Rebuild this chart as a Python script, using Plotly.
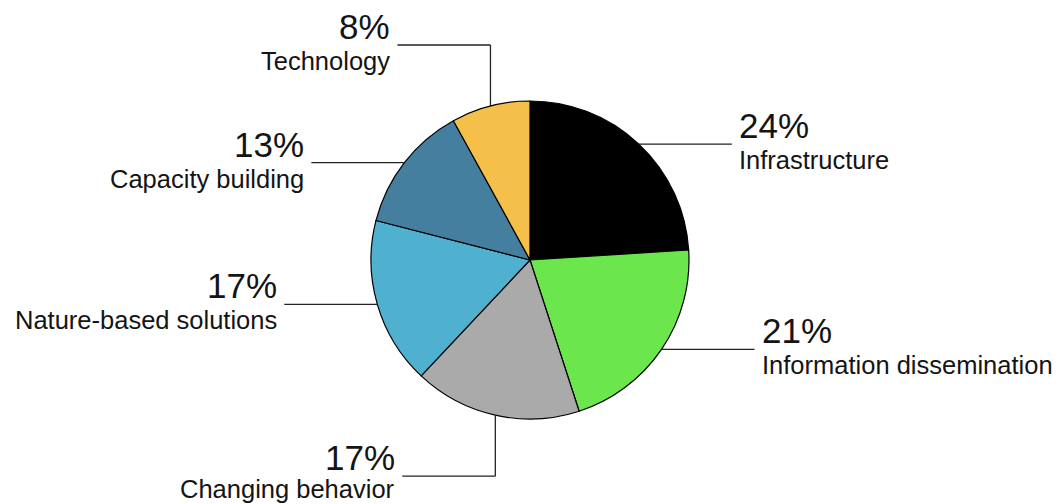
import math
import plotly.graph_objects as go

categories = ["Infrastructure", "Information dissemination", "Changing behavior",
              "Nature-based solutions", "Capacity building", "Technology"]
values = [24, 21, 17, 17, 13, 8]
pct_labels = ["24%", "21%", "17%", "17%", "13%", "8%"]
colors = ["#000000", "#6be64d", "#aaaaaa", "#4fb0d0", "#457fa0", "#f4c04a"]
leader_style = ["h", "h", "v", "h", "h", "v"]

W, H = 1059, 504
cx, cy, R = 530, 260, 159
HLEN, VLEN, GAP = 93, 61, 5
FONT = "Liberation Sans"
TXT = "#141414"
LABEL_SIZE = 25.5

fig = go.Figure(go.Pie(
    labels=categories, values=values, sort=False, direction="clockwise", rotation=0,
    marker=dict(colors=colors, line=dict(color="#000000", width=1.2)),
    textinfo="none", hoverinfo="label+percent",
    domain=dict(x=[(cx - R) / W, (cx + R) / W], y=[(H - cy - R) / H, (H - cy + R) / H]),
    showlegend=False,
))

def px(x):
    return x / W

def py(y):
    return 1 - y / H

shapes, annotations = [], []
total = sum(values)
cum = 0
for cat, v, pl, st in zip(categories, values, pct_labels, leader_style):
    a = 2 * math.pi * (cum + v / 2) / total
    cum += v
    ex, ey = cx + R * math.sin(a), cy - R * math.cos(a)
    right = math.sin(a) > 0
    if st == "h":
        lx0, ly = ex, ey
    else:
        ly = ey - VLEN if math.cos(a) > 0 else ey + VLEN
        shapes.append(dict(type="line", xref="paper", yref="paper",
                           x0=px(ex), y0=py(ey), x1=px(ex), y1=py(ly),
                           line=dict(color="#222222", width=1.3)))
        lx0 = ex
    lx1 = lx0 + HLEN if right else lx0 - HLEN
    shapes.append(dict(type="line", xref="paper", yref="paper",
                       x0=px(lx0), y0=py(ly), x1=px(lx1), y1=py(ly),
                       line=dict(color="#222222", width=1.3)))
    tx = lx1 + GAP if right else lx1 - GAP
    xa = "left" if right else "right"
    annotations.append(dict(x=px(tx), y=py(ly), xref="paper", yref="paper",
                            text=pl, showarrow=False, xanchor=xa, yanchor="bottom",
                            yshift=-3, font=dict(family=FONT, size=35, color=TXT)))
    # keep the lowest label inside the page
    box_bottom = ly + LABEL_SIZE * 1.2
    lshift = max(0, box_bottom - H)
    annotations.append(dict(x=px(tx), y=py(ly), xref="paper", yref="paper",
                            text=cat, showarrow=False, xanchor=xa, yanchor="top",
                            yshift=lshift, font=dict(family=FONT, size=LABEL_SIZE, color=TXT)))

fig.update_layout(width=W, height=H, margin=dict(l=0, r=0, t=0, b=0),
                  paper_bgcolor="white", plot_bgcolor="white",
                  shapes=shapes, annotations=annotations)
fig.write_html("out.html")
